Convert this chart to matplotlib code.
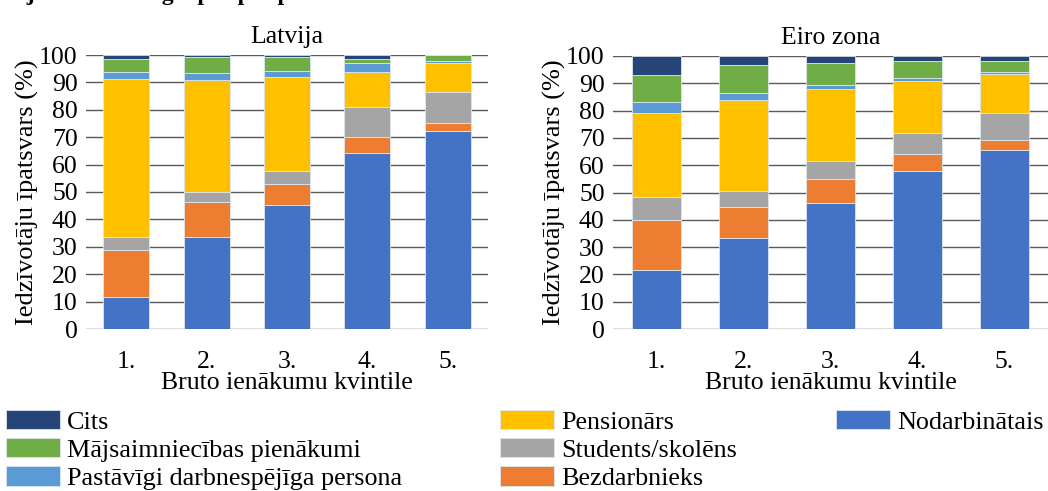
import matplotlib
matplotlib.use("Agg")
import matplotlib.pyplot as plt
import numpy as np

plt.rcParams['font.family'] = ['Liberation Serif', 'DejaVu Serif']

categories = ["1.", "2.", "3.", "4.", "5."]
series_names = ["Nodarbinātais", "Bezdarbnieks", "Students/skolēns", "Pensionārs",
                "Pastāvīgi darbnespējīga persona", "Mājsaimniecības pienākumi", "Cits"]
colors = ["#4472C4", "#ED7D31", "#A5A5A5", "#FFC000", "#5B9BD5", "#70AD47", "#264478"]

# Latvija
lv_nodarbinatais = [11.5, 33.4, 45.4, 64.4, 72.4]
lv_bezdarbnieks = [17.2, 12.8, 7.7, 5.7, 2.7]
lv_students = [4.7, 3.7, 4.6, 10.9, 11.5]
lv_pensionars = [57.9, 40.9, 34.3, 12.7, 10.4]
lv_pastavigi = [2.4, 2.5, 2.0, 3.3, 0.8]
lv_majsaimn = [5.0, 6.1, 5.4, 1.5, 2.1]
lv_cits = [1.3, 0.6, 0.6, 1.5, 0.1]

# Eiro zona
ez_nodarbinatais = [21.5, 33.3, 46.0, 57.9, 65.4]
ez_bezdarbnieks = [18.5, 11.3, 9.1, 6.1, 3.9]
ez_students = [8.4, 5.8, 6.6, 7.7, 9.8]
ez_pensionars = [30.9, 33.3, 26.2, 19.3, 14.3]
ez_pastavigi = [3.7, 2.8, 1.6, 1.1, 0.7]
ez_majsaimn = [10.0, 10.2, 7.9, 6.1, 4.2]
ez_cits = [7.0, 3.3, 2.6, 1.8, 1.7]

lv = [lv_nodarbinatais, lv_bezdarbnieks, lv_students, lv_pensionars, lv_pastavigi, lv_majsaimn, lv_cits]
ez = [ez_nodarbinatais, ez_bezdarbnieks, ez_students, ez_pensionars, ez_pastavigi, ez_majsaimn, ez_cits]

FS = 18.5
W, H = 1048, 491

fig = plt.figure(figsize=(W / 100, H / 100), dpi=100)
ax1 = fig.add_axes([86/W, 1-329/H, 402/W, 274/H])
ax2 = fig.add_axes([613/W, 1-329/H, 435/W, 273/H])

handles = {}
for ax, data, title in [(ax1, lv, "Latvija"), (ax2, ez, "Eiro zona")]:
    x = np.arange(len(categories))
    bottom = np.zeros(len(categories))
    for name, vals, c in zip(series_names, data, colors):
        b = ax.bar(x, vals, 0.57, bottom=bottom, color=c, edgecolor="#dde6f0",
                   linewidth=0.6, zorder=3, label=name)
        handles[name] = b
        bottom += np.array(vals)
    ax.set_xlim(-0.5, len(categories) - 0.5)
    ax.set_ylim(0, 100)
    ax.set_yticks(np.arange(0, 101, 10))
    ax.set_xticks(x)
    ax.set_xticklabels(categories)
    ax.yaxis.grid(True, color="#5a5a5a", linewidth=1.0, zorder=0)
    for s in ax.spines.values():
        s.set_visible(False)
    ax.tick_params(axis="both", length=0, labelsize=FS)
    ax.tick_params(axis="y", pad=6)
    ax.tick_params(axis="x", pad=16)
    ax.set_ylabel("Iedzīvotāju īpatsvars (%)", fontsize=19, labelpad=0)
    ax.set_xlabel("Bruto ienākumu kvintile", fontsize=FS, labelpad=-1)
    ax.set_title(title, fontsize=FS, pad=9)

columns = [
    (6, ["Cits", "Mājsaimniecības pienākumi", "Pastāvīgi darbnespējīga persona"]),
    (500, ["Pensionārs", "Students/skolēns", "Bezdarbnieks"]),
    (836, ["Nodarbinātais"]),
]
for xpix, names in columns:
    fig.legend([handles[n] for n in names], names, loc="upper left",
               bbox_to_anchor=(xpix / W, 1 - 410 / H), ncol=1, frameon=False,
               fontsize=18.8, handlelength=2.05, handleheight=0.76, handletextpad=0.28,
               labelspacing=0.17, borderaxespad=0.0, borderpad=0.0)

fig.text(-0.005, 1.0 - 0.3 / H, "mājsaimniecību grupās pēc personas nodarbinātības statusa",
         fontsize=17, fontweight="bold", va="baseline", ha="left")

fig.savefig("out.png", dpi=100)
